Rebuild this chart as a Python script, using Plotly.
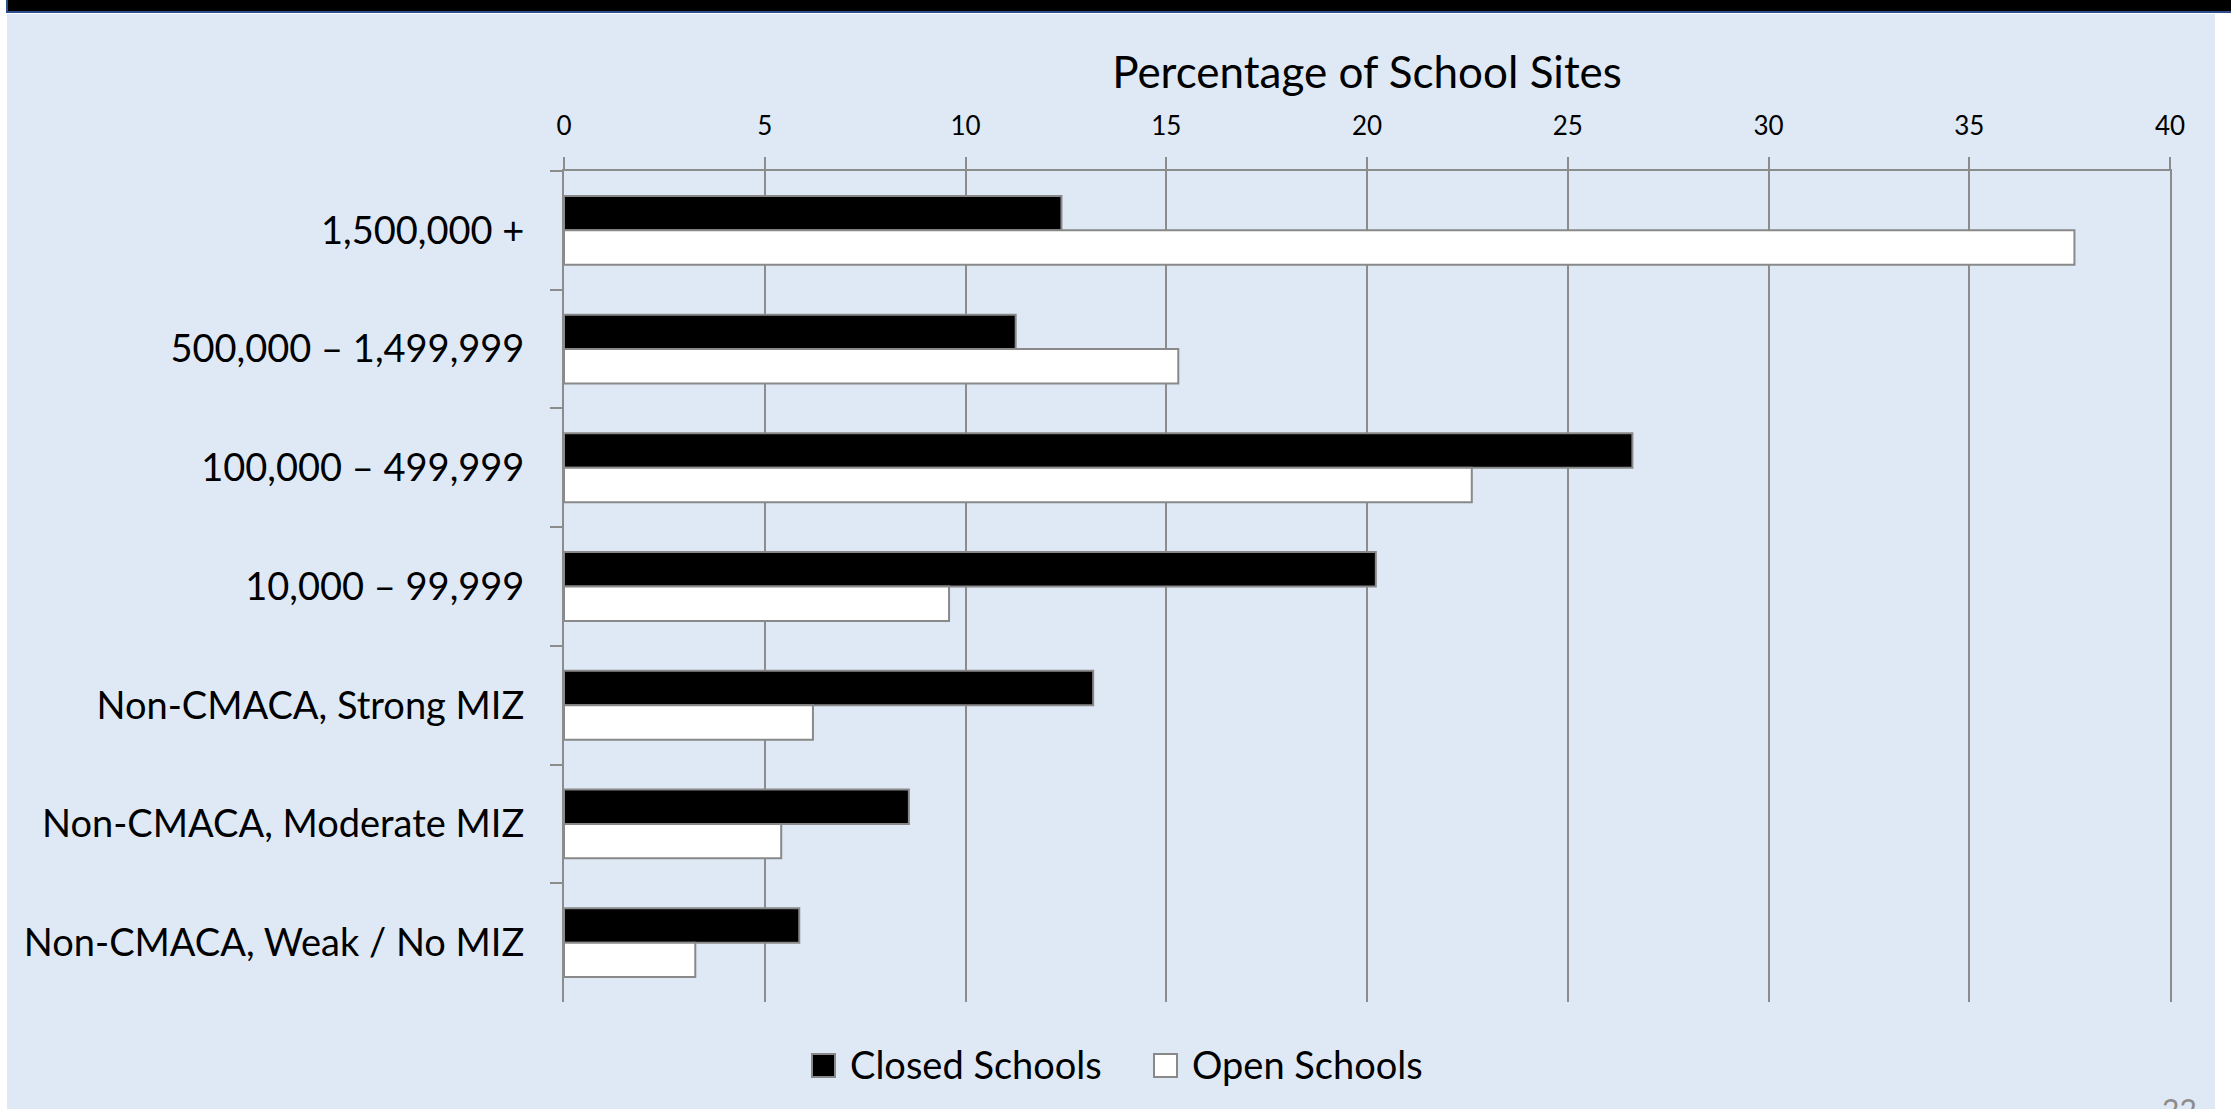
import plotly.graph_objects as go

# Size bands of the community each school site belongs to (top to bottom)
categories = [
    "1,500,000 +",
    "500,000 – 1,499,999",
    "100,000 – 499,999",
    "10,000 – 99,999",
    "Non-CMACA, Strong MIZ",
    "Non-CMACA, Moderate MIZ",
    "Non-CMACA, Weak / No MIZ",
]
series_names = ["Closed Schools", "Open Schools"]
closed_pct = [12.39, 11.25, 26.61, 20.22, 13.18, 8.59, 5.86]
open_pct = [37.62, 15.30, 22.61, 9.59, 6.20, 5.41, 3.27]
x_ticks = [0, 5, 10, 15, 20, 25, 30, 35, 40]
axis_title = "Percentage of School Sites"
page_number = "22"

W, H = 2231, 1109
ML, MR, MT, MB = 564, 61, 171, 107
PANEL = "#DEE9F5"
GRID = "#8C8C8C"
EDGE = "#898989"
FONT = "Lato"


def px_x(px):
    return (px - ML) / (W - ML - MR)


def px_y(py):
    return (H - MB - py) / (H - MT - MB)


fig = go.Figure()
fig.add_trace(go.Bar(
    y=categories, x=closed_pct, orientation="h", name=series_names[0],
    marker=dict(color="#000000", line=dict(color=EDGE, width=2)),
    showlegend=False,
))
fig.add_trace(go.Bar(
    y=categories, x=open_pct, orientation="h", name=series_names[1],
    marker=dict(color="#FFFFFF", line=dict(color=EDGE, width=2)),
    showlegend=False,
))

shapes = [
    # slide panel
    dict(type="rect", xref="paper", yref="paper", layer="below",
         x0=px_x(7), x1=px_x(2215), y0=px_y(1109), y1=px_y(14),
         fillcolor=PANEL, line=dict(width=0)),
    # header rule
    dict(type="rect", xref="paper", yref="paper", layer="above",
         x0=px_x(7), x1=px_x(2240), y0=px_y(12), y1=px_y(-2),
         fillcolor="#000000", line=dict(color="#2F4E8C", width=2)),
]

# legend swatches and labels
legend_items = [
    (series_names[0], "#000000", 812, 848),
    (series_names[1], "#FFFFFF", 1154, 1190),
]
annotations = []
for label, fill, bx, tx in legend_items:
    shapes.append(dict(type="rect", xref="paper", yref="paper", layer="above",
                       x0=px_x(bx), x1=px_x(bx + 23), y0=px_y(1077), y1=px_y(1054),
                       fillcolor=fill, line=dict(color=EDGE, width=2)))
    annotations.append(dict(text=label, xref="paper", yref="paper",
                            x=px_x(tx), y=px_y(1064), xanchor="left", yanchor="middle",
                            showarrow=False, font=dict(family=FONT, size=38, color="#000000")))

annotations.append(dict(text=page_number, xref="paper", yref="paper",
                        x=px_x(2179), y=px_y(1089), xanchor="center", yanchor="top",
                        showarrow=False, font=dict(family=FONT, size=30, color="#8C8C8C")))

fig.update_layout(
    width=W, height=H,
    margin=dict(l=ML, r=MR, t=MT, b=MB, pad=0),
    paper_bgcolor="#FFFFFF",
    plot_bgcolor="rgba(0,0,0,0)",
    barmode="group",
    bargap=0.42,
    bargroupgap=0,
    showlegend=False,
    font=dict(family=FONT, color="#000000"),
    shapes=shapes,
    annotations=annotations,
)
fig.update_xaxes(
    side="top", range=[0, 40], tickvals=x_ticks,
    showgrid=True, gridcolor=GRID, gridwidth=2,
    showline=True, linecolor=GRID, linewidth=2,
    ticks="outside", ticklen=12, tickwidth=2, tickcolor=GRID,
    tickfont=dict(family=FONT, size=26, color="#000000"),
    ticklabelstandoff=12,
    zeroline=False,
    title=dict(text=axis_title, standoff=6,
               font=dict(family=FONT, size=44, color="#000000")),
)
fig.update_yaxes(
    autorange="reversed", type="category",
    showgrid=False,
    showline=True, linecolor=GRID, linewidth=2, mirror=True,
    ticks="outside", ticklen=12, tickwidth=2, tickcolor=GRID,
    tickson="boundaries",
    tickfont=dict(family=FONT, size=38, color="#000000"),
    ticklabelstandoff=30,
)

fig.write_html("out.html")
